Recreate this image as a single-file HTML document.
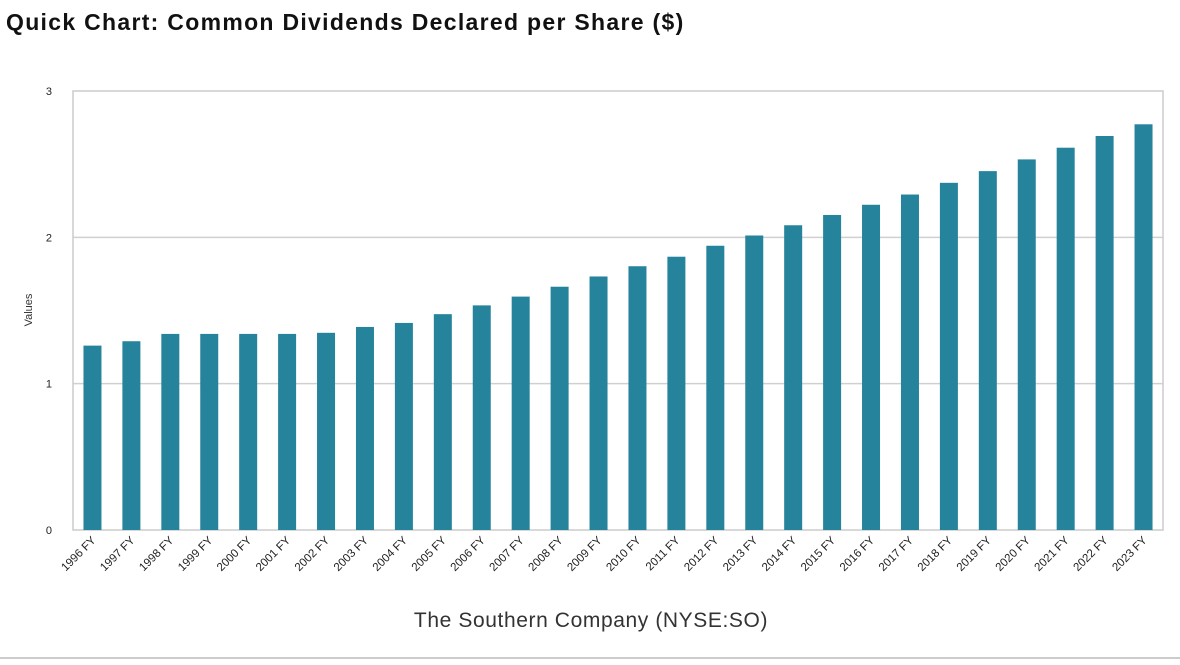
<!DOCTYPE html>
<html><head><meta charset="utf-8"><style>
body{margin:0;width:1180px;height:660px;background:#fff;overflow:hidden;font-family:"Liberation Sans",sans-serif}
</style></head><body>
<svg width="1180" height="660" xmlns="http://www.w3.org/2000/svg">
<text x="6" y="30" font-size="23" font-weight="bold" letter-spacing="1.3" fill="#111">Quick Chart: Common Dividends Declared per Share ($)</text>
<g id="grid"></g>
<rect x="73" y="91" width="1090" height="439" fill="none" stroke="#ccc" stroke-width="1.5"/>
<g id="bars"></g>
<g id="xlabels"></g>
<text transform="translate(32,310) rotate(-90)" text-anchor="middle" font-size="11" fill="#333">Values</text>
<text x="591" y="627" text-anchor="middle" font-size="21" letter-spacing="0.6" fill="#333">The Southern Company (NYSE:SO)</text>
<line x1="0" y1="658" x2="1180" y2="658" stroke="#999" stroke-width="1"/>
</svg>
<script>
const categories=["1996 FY","1997 FY","1998 FY","1999 FY","2000 FY","2001 FY","2002 FY","2003 FY","2004 FY","2005 FY","2006 FY","2007 FY","2008 FY","2009 FY","2010 FY","2011 FY","2012 FY","2013 FY","2014 FY","2015 FY","2016 FY","2017 FY","2018 FY","2019 FY","2020 FY","2021 FY","2022 FY","2023 FY"];
const values=[1.26,1.29,1.34,1.34,1.34,1.34,1.3475,1.3875,1.415,1.475,1.535,1.595,1.6625,1.7325,1.8025,1.8675,1.9425,2.0125,2.0825,2.1525,2.2225,2.2925,2.3725,2.4525,2.5325,2.6125,2.6925,2.7725];
const yTicks=[0,1,2,3];
const NS="http://www.w3.org/2000/svg";
const L=73,R=1163,T=91,B=530,yMax=3;
const y=v=>B-(v/yMax)*(B-T);
const band=(R-L)/categories.length;
const xc=i=>L+band*(i+0.5);
const grid=document.getElementById('grid');
yTicks.forEach(t=>{
  if(t>0&&t<yMax){const ln=document.createElementNS(NS,'line');
  ln.setAttribute('x1',L);ln.setAttribute('x2',R);ln.setAttribute('y1',y(t));ln.setAttribute('y2',y(t));
  ln.setAttribute('stroke','#d0d0d0');ln.setAttribute('stroke-width','1.5');
  
  
  grid.appendChild(ln);}
  const tx=document.createElementNS(NS,'text');
  tx.setAttribute('x',52);tx.setAttribute('y',y(t)+4);tx.setAttribute('font-size','11');tx.setAttribute('fill','#222');tx.setAttribute('text-anchor','end');
  tx.textContent=t;
  
  
  grid.appendChild(tx);
});
const bars=document.getElementById('bars'),xl=document.getElementById('xlabels');
const bw=18;
values.forEach((v,i)=>{
  const r=document.createElementNS(NS,'rect');
  r.setAttribute('x',xc(i)-bw/2);r.setAttribute('width',bw);r.setAttribute('y',y(v));r.setAttribute('height',B-y(v));
  r.setAttribute('fill','#25839b');
  
  
  bars.appendChild(r);
  const t=document.createElementNS(NS,'text');
  t.setAttribute('transform','translate('+(xc(i)+4)+',541) rotate(-45)');
  t.setAttribute('text-anchor','end');t.setAttribute('font-size','11.5');t.setAttribute('fill','#222');
  t.textContent=categories[i];
  
  
  xl.appendChild(t);
});
</script>
</body></html>
